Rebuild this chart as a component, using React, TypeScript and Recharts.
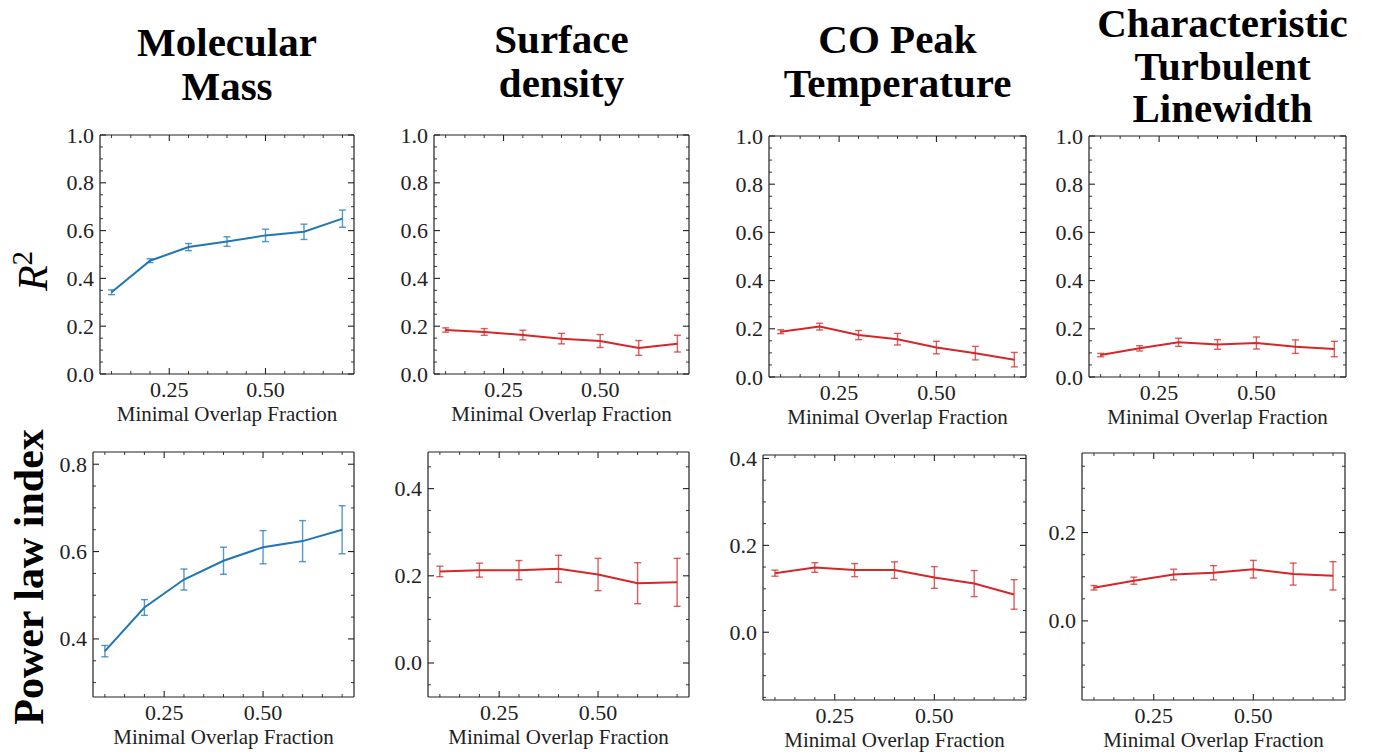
import React from "react";
import { LineChart, Line, XAxis, YAxis, ErrorBar } from "recharts";

// overlap fractions shared by every panel
const overlap = [0.1, 0.2, 0.3, 0.4, 0.5, 0.6, 0.7];

// R^2 row
const massR2 = [0.342, 0.474, 0.531, 0.554, 0.58, 0.595, 0.65];
const massR2Err = [0.01, 0.008, 0.015, 0.02, 0.026, 0.032, 0.036];
const surfR2 = [0.184, 0.176, 0.163, 0.148, 0.138, 0.109, 0.127];
const surfR2Err = [0.009, 0.014, 0.02, 0.022, 0.027, 0.031, 0.035];
const coR2 = [0.188, 0.209, 0.174, 0.157, 0.122, 0.099, 0.072];
const coR2Err = [0.008, 0.014, 0.019, 0.024, 0.026, 0.028, 0.03];
const turbR2 = [0.091, 0.119, 0.144, 0.135, 0.141, 0.126, 0.116];
const turbR2Err = [0.007, 0.011, 0.017, 0.02, 0.025, 0.028, 0.032];

// power law index row
const massIdx = [0.372, 0.472, 0.536, 0.579, 0.61, 0.624, 0.65];
const massIdxErr = [0.013, 0.018, 0.024, 0.031, 0.038, 0.047, 0.055];
const surfIdx = [0.21, 0.213, 0.213, 0.216, 0.203, 0.183, 0.185];
const surfIdxErr = [0.012, 0.016, 0.022, 0.031, 0.037, 0.047, 0.055];
const coIdx = [0.136, 0.149, 0.143, 0.143, 0.126, 0.112, 0.087];
const coIdxErr = [0.007, 0.011, 0.015, 0.019, 0.025, 0.03, 0.034];
const turbIdx = [0.075, 0.091, 0.105, 0.109, 0.117, 0.106, 0.102];
const turbIdxErr = [0.005, 0.008, 0.012, 0.016, 0.02, 0.025, 0.032];

const titles = [
  ["Molecular", "Mass"],
  ["Surface", "density"],
  ["CO Peak", "Temperature"],
  ["Characteristic", "Turbulent", "Linewidth"],
];
const xLabel = "Minimal Overlap Fraction";

const xMajor = [0.25, 0.5];
const r2Major = [0, 0.2, 0.4, 0.6, 0.8, 1.0];
const idxMajor = [0, 0.2, 0.4, 0.6, 0.8];

const BLUE = "#1f77b4";
const RED = "#d62728";
const INK = "#222";
const SERIF = "'Liberation Serif', 'DejaVu Serif', serif";

const xDomain = [0.07, 0.73];
// outer padding around each plot box; axes take 1px of it
const M = { top: 12, right: 14, bottom: 34, left: 60 };
const chartMargin = { top: M.top - 1, right: M.right - 1, bottom: M.bottom - 1, left: M.left - 1 };

type Box = { L: number; R: number; T: number; B: number };

const panels = [
  { v: massR2, e: massR2Err, color: BLUE, dom: [0, 1], major: r2Major, box: { L: 100, R: 354, T: 135, B: 374 } },
  { v: surfR2, e: surfR2Err, color: RED, dom: [0, 1], major: r2Major, box: { L: 434, R: 689, T: 135, B: 374 } },
  { v: coR2, e: coR2Err, color: RED, dom: [0, 1], major: r2Major, box: { L: 769, R: 1026, T: 136, B: 377 } },
  { v: turbR2, e: turbR2Err, color: RED, dom: [0, 1], major: r2Major, box: { L: 1089, R: 1346, T: 136, B: 377 } },
  { v: massIdx, e: massIdxErr, color: BLUE, dom: [0.267, 0.828], major: idxMajor, box: { L: 93, R: 354, T: 452, B: 697 } },
  { v: surfIdx, e: surfIdxErr, color: RED, dom: [-0.078, 0.484], major: idxMajor, box: { L: 428, R: 689, T: 452, B: 697 } },
  { v: coIdx, e: coIdxErr, color: RED, dom: [-0.156, 0.408], major: idxMajor, box: { L: 763, R: 1026, T: 455, B: 700 } },
  { v: turbIdx, e: turbIdxErr, color: RED, dom: [-0.179, 0.38], major: idxMajor, box: { L: 1082, R: 1345, T: 453, B: 700 } },
];

// all 0.05 steps inside a domain (major + minor tick positions)
const stepTicks = (dom: number[], step = 0.05) => {
  const out: number[] = [];
  for (let k = Math.ceil(dom[0] / step - 1e-9); k * step <= dom[1] + 1e-9; k++) {
    out.push(Math.round(k * step * 1000) / 1000);
  }
  return out;
};

const TickMark = (props: any) => {
  const { x, y, payload, side, majors } = props;
  const v = payload.value;
  const major = majors.some((m: number) => Math.abs(m - v) < 1e-6);
  const len = major ? 6 : 3;
  let c = [x, y, x, y - len];
  if (side === "top") c = [x, y, x, y + len];
  if (side === "left") c = [x, y, x + len, y];
  if (side === "right") c = [x, y, x - len, y];
  return (
    <g>
      <line x1={c[0]} y1={c[1]} x2={c[2]} y2={c[3]} stroke={INK} strokeWidth={major ? 1.1 : 0.9} />
      {major && side === "bottom" && (
        <text x={x} y={y + 23} textAnchor="middle" fontFamily={SERIF} fontSize={22} fill={INK}>
          {v.toFixed(2)}
        </text>
      )}
      {major && side === "left" && (
        <text x={x - 6} y={y + 7.5} textAnchor="end" fontFamily={SERIF} fontSize={22} fill={INK}>
          {v.toFixed(1)}
        </text>
      )}
    </g>
  );
};

function Panel({ p }: { p: (typeof panels)[number] }) {
  const box: Box = p.box;
  const w = box.R - box.L;
  const h = box.B - box.T;
  const data = overlap.map((x, i) => ({ x, y: p.v[i], err: p.e[i] }));
  const xTicks = stepTicks(xDomain);
  const yTicks = stepTicks(p.dom);
  const frame = { stroke: INK, strokeWidth: 1.2 };
  const common = { type: "number" as const, allowDataOverflow: true, interval: 0 as const, tickSize: 0, tickMargin: 0, tickLine: false, axisLine: frame };
  return (
    <div style={{ position: "absolute", left: box.L - M.left, top: box.T - M.top }}>
      <LineChart width={w + M.left + M.right} height={h + M.top + M.bottom} data={data} margin={chartMargin}>
        <XAxis {...common} xAxisId="b" dataKey="x" domain={xDomain} ticks={xTicks} height={1}
          tick={(t: any) => <TickMark {...t} side="bottom" majors={xMajor} />} />
        <XAxis {...common} xAxisId="t" orientation="top" dataKey="x" domain={xDomain} ticks={xTicks} height={1}
          tick={(t: any) => <TickMark {...t} side="top" majors={xMajor} />} />
        <YAxis {...common} yAxisId="l" domain={p.dom} ticks={yTicks} width={1}
          tick={(t: any) => <TickMark {...t} side="left" majors={p.major} />} />
        <YAxis {...common} yAxisId="r" orientation="right" domain={p.dom} ticks={yTicks} width={1}
          tick={(t: any) => <TickMark {...t} side="right" majors={p.major} />} />
        <Line xAxisId="b" yAxisId="l" type="linear" dataKey="y" stroke={p.color} strokeWidth={2}
          dot={false} activeDot={false} isAnimationActive={false}>
          <ErrorBar dataKey="err" direction="y" width={3.5} stroke={p.color} strokeWidth={1.4}
            strokeOpacity={0.75} isAnimationActive={false} />
        </Line>
      </LineChart>
    </div>
  );
}

export default function App() {
  return (
    <div style={{ position: "absolute", left: 0, top: 0, width: 1380, height: 755, background: "#fff", overflow: "hidden" }}>
      {panels.map((p, i) => (
        <Panel key={i} p={p} />
      ))}
      <svg width={1380} height={755} style={{ position: "absolute", left: 0, top: 0, pointerEvents: "none" }}>
        {titles.map((lines, i) => {
          const b = panels[i].box;
          const cx = (b.L + b.R) / 2 + (i === 3 ? 5 : 0);
          const base = lines.length === 3 ? 37 : i === 0 ? 56 : 53;
          const gap = lines.length === 3 ? 42.5 : 43.5;
          return lines.map((ln, j) => (
            <text key={`${i}-${j}`} x={cx} y={base + j * gap} textAnchor="middle" fontFamily={SERIF}
              fontWeight="bold" fontSize={41} fill="#000">
              {ln}
            </text>
          ));
        })}
        {panels.map((p, i) => (
          <text key={`xl${i}`} x={(p.box.L + p.box.R) / 2} y={p.box.B + 47} textAnchor="middle"
            fontFamily={SERIF} fontSize={21} fill={INK}>
            {xLabel}
          </text>
        ))}
        <text transform="translate(47, 271) rotate(-90)" textAnchor="middle" fontFamily={SERIF} fontSize={42} fill="#000">
          <tspan fontStyle="italic">R</tspan>
          <tspan dy={-15} fontSize={29}>2</tspan>
        </text>
        <text transform="translate(43, 577) rotate(-90)" textAnchor="middle" fontFamily={SERIF} fontWeight="bold"
          fontSize={42} fill="#000">
          Power law index
        </text>
      </svg>
    </div>
  );
}
